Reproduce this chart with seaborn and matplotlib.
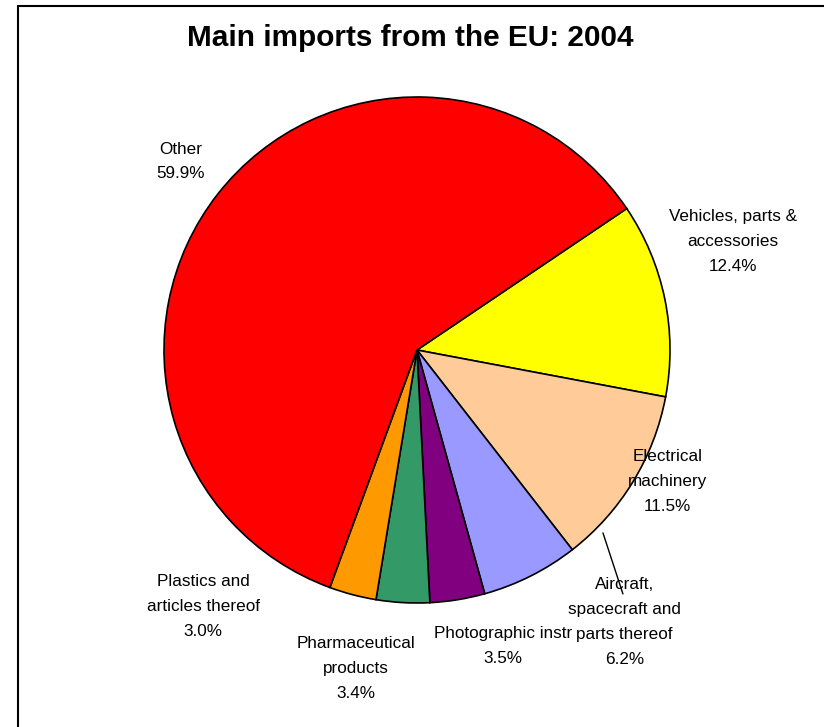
import numpy as np
import seaborn as sns
import matplotlib.pyplot as plt

categories = ["Vehicles, parts &\naccessories", "Electrical\nmachinery",
              "Aircraft,\nspacecraft and\nparts thereof", "Photographic instr",
              "Pharmaceutical\nproducts", "Plastics and\narticles thereof", "Other"]
shares = [12.4, 11.5, 6.2, 3.5, 3.4, 3.0, 59.9]
colors = ["#FFFF00", "#FFCC99", "#9999FF", "#800080", "#339966", "#FF9900", "#FF0000"]

# label centres (pie radius units)
label_pos = [(1.25, 0.43), (0.99, -0.52), (0.82, -1.075), (0.34, -1.17),
             (-0.24, -1.26), (-0.845, -1.015), (-0.935, 0.745)]

sns.set_style("white")
plt.rcParams['font.family'] = ['Liberation Sans', 'DejaVu Sans']
plt.rcParams['text.color'] = 'black'

fig = plt.figure(figsize=(8.24, 7.27), dpi=100)
cx, cy, r = 417, 350, 253
W, H = 824, 727
ax = fig.add_axes([(cx - r) / W, (H - cy - r) / H, 2 * r / W, 2 * r / H])

ax.pie(shares, colors=colors, startangle=34, counterclock=False, radius=1,
       wedgeprops=dict(edgecolor="black", linewidth=1.2))
ax.set_xlim(-1, 1)
ax.set_ylim(-1, 1)
ax.set_aspect("equal")
ax.axis("off")

for name, val, (x, y) in zip(categories, shares, label_pos):
    ax.text(x, y, f"{name}\n{val:.1f}%", ha="center", va="center",
            fontsize=12.3, linespacing=1.82, clip_on=False)

# leader line for aircraft label
ax.plot([0.735, 0.814], [-0.723, -0.964], color="black", lw=1, clip_on=False)

fig.text(410 / W, 1 - 38 / H, "Main imports from the EU: 2004", ha="center", va="center",
         fontsize=21.4, fontweight="bold")

# chart frame
fig.add_artist(plt.Line2D([18 / W, 18 / W], [0, 1 - 6 / H], color="black", lw=1.5))
fig.add_artist(plt.Line2D([18 / W, 1], [1 - 6 / H, 1 - 6 / H], color="black", lw=1.5))

fig.savefig("out.png", dpi=100)
